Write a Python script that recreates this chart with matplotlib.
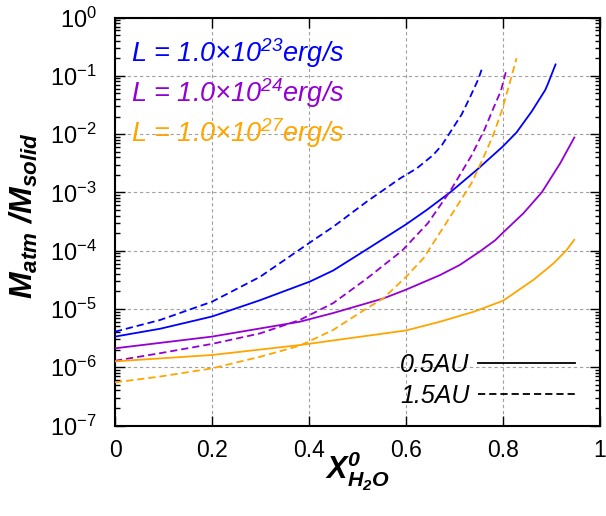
import matplotlib
matplotlib.use("Agg")
import matplotlib.pyplot as plt
from matplotlib.ticker import LogLocator, NullFormatter, FixedLocator

plt.rcParams['font.family'] = ['Liberation Sans', 'DejaVu Sans']
plt.rcParams['mathtext.default'] = 'regular'

# L = 1e23 erg/s
x_b05 = [0.0, 0.093, 0.2, 0.299, 0.402, 0.450, 0.519, 0.6, 0.643, 0.691, 0.711, 0.746, 0.8, 0.828,
         0.859, 0.887, 0.893, 0.909]
y_b05 = [3.35e-6, 4.57e-6, 7.41e-6, 1.41e-5, 2.95e-5, 4.57e-5, 1.05e-4, 2.82e-4, 5.01e-4, 1.0e-3,
         1.38e-3, 2.43e-3, 6.17e-3, 1.07e-2, 2.43e-2, 5.69e-2, 7.41e-2, 0.162]
x_b15 = [0.0, 0.093, 0.2, 0.299, 0.402, 0.450, 0.519, 0.588, 0.622, 0.656, 0.674, 0.694, 0.715, 0.733,
         0.749, 0.758]
y_b15 = [4.07e-6, 6.46e-6, 1.33e-5, 3.55e-5, 1.38e-4, 2.57e-4, 6.92e-4, 1.74e-3, 2.57e-3, 4.37e-3,
         6.46e-3, 1.17e-2, 2.19e-2, 4.47e-2, 8.71e-2, 0.143]
# L = 1e24 erg/s
x_p05 = [0.0, 0.2, 0.381, 0.450, 0.553, 0.6, 0.670, 0.711, 0.753, 0.784, 0.8, 0.842, 0.880, 0.918, 0.948]
y_p05 = [2.11e-6, 3.35e-6, 6.03e-6, 8.51e-6, 1.51e-5, 2.14e-5, 3.80e-5, 5.69e-5, 9.77e-5, 1.51e-4,
         2.04e-4, 4.37e-4, 1.0e-3, 3.16e-3, 9.02e-3]
x_p15 = [0.0, 0.093, 0.2, 0.299, 0.381, 0.450, 0.519, 0.592, 0.645, 0.691, 0.735, 0.762, 0.780, 0.796,
         0.807]
y_p15 = [1.29e-6, 1.74e-6, 2.51e-6, 3.80e-6, 6.46e-6, 1.26e-5, 3.31e-5, 1.0e-4, 2.95e-4, 1.05e-3,
         4.27e-3, 1.20e-2, 2.75e-2, 5.62e-2, 0.126]
# L = 1e27 erg/s
x_o05 = [0.0, 0.2, 0.381, 0.6, 0.670, 0.739, 0.8, 0.863, 0.904, 0.931, 0.948]
y_o05 = [1.26e-6, 1.62e-6, 2.40e-6, 4.27e-6, 6.03e-6, 8.91e-6, 1.38e-5, 3.16e-5, 6.03e-5, 1.02e-4, 1.58e-4]
x_o15 = [0.0, 0.093, 0.2, 0.299, 0.381, 0.450, 0.519, 0.553, 0.6, 0.636, 0.691, 0.735, 0.759, 0.780,
         0.797, 0.814, 0.828]
y_o15 = [5.50e-7, 6.92e-7, 9.55e-7, 1.51e-6, 2.34e-6, 4.37e-6, 1.02e-5, 1.51e-5, 3.55e-5, 7.41e-5,
         3.80e-4, 1.43e-3, 3.85e-3, 9.66e-3, 2.43e-2, 7.59e-2, 0.200]

lum_labels = ["L = 1.0×10$^{23}$erg/s", "L = 1.0×10$^{24}$erg/s", "L = 1.0×10$^{27}$erg/s"]
colors = ['#0000ff', '#9400d3', '#ffa500']
x_ticks = [0, 0.2, 0.4, 0.6, 0.8, 1]
x_ticklabels = ['0', '0.2', '0.4', '0.6', '0.8', '1']
y_ticks = [1e-7, 1e-6, 1e-5, 1e-4, 1e-3, 1e-2, 1e-1, 1e0]
y_ticklabels = ['10$^{-7}$', '10$^{-6}$', '10$^{-5}$', '10$^{-4}$', '10$^{-3}$', '10$^{-2}$', '10$^{-1}$', '10$^{0}$']

fig = plt.figure(figsize=(6.06, 5.16), dpi=100)
ax = fig.add_axes([115/606, 1 - 425.5/516, 485/606, 408/516])

dash = (0, (4, 2.2))
lw = 1.3
series = [(x_b05, y_b05, x_b15, y_b15), (x_p05, y_p05, x_p15, y_p15), (x_o05, y_o05, x_o15, y_o15)]
for (xs, ys, xd, yd), c in zip(series, colors):
    ax.plot(xs, ys, color=c, lw=lw, solid_capstyle='butt', solid_joinstyle='round', zorder=3)
    ax.plot(xd, yd, color=c, lw=lw, linestyle=dash, zorder=3)

ax.set_yscale('log')
ax.set_xlim(0, 1)
ax.set_ylim(1e-7, 1)
ax.xaxis.set_major_locator(FixedLocator(x_ticks))
ax.set_xticklabels(x_ticklabels)
ax.yaxis.set_major_locator(FixedLocator(y_ticks))
ax.set_yticklabels(y_ticklabels)
ax.yaxis.set_minor_locator(LogLocator(base=10, subs=range(2, 10), numticks=20))
ax.yaxis.set_minor_formatter(NullFormatter())

ax.tick_params(which='both', direction='in', top=True, right=True, width=1.0, color='black')
ax.tick_params(which='major', length=7)
ax.tick_params(axis='x', which='major', pad=10, labelsize=16.5)
ax.tick_params(axis='y', which='major', pad=13, labelsize=17)
ax.tick_params(which='minor', length=3.5)

ax.grid(True, which='major', color='#a0a0a0', linestyle=(0, (3, 2.5)), lw=0.8)
for s in ax.spines.values():
    s.set_linewidth(1.5)

ax.set_ylabel("M$_{atm}$ /M$_{solid}$", fontsize=23, fontweight='bold', fontstyle='italic')
ax.yaxis.set_label_coords(-0.155, 0.515)
ax.set_xlabel("X$^{0}_{H_2O}$", fontsize=22, fontweight='bold', fontstyle='italic')
ax.xaxis.set_label_coords(0.5, -0.06)

# luminosity key (top left)
for lab, c, yy in zip(lum_labels, colors, [0.892, 0.794, 0.696]):
    ax.text(0.033, yy, lab, color=c, fontsize=19.5, fontstyle='italic', va='baseline', ha='left',
            transform=ax.transAxes)

# distance key (bottom right)
ax.text(0.731, 0.132, "0.5AU", fontsize=18, fontstyle='italic', va='baseline', ha='right',
        transform=ax.transAxes)
ax.plot([0.748, 0.948], [0.154, 0.154], color='black', lw=lw, transform=ax.transAxes)
ax.text(0.731, 0.054, "1.5AU", fontsize=18, fontstyle='italic', va='baseline', ha='right',
        transform=ax.transAxes)
ax.plot([0.748, 0.948], [0.076, 0.076], color='black', lw=lw, linestyle=dash, transform=ax.transAxes)

fig.savefig("out.png", dpi=100)
